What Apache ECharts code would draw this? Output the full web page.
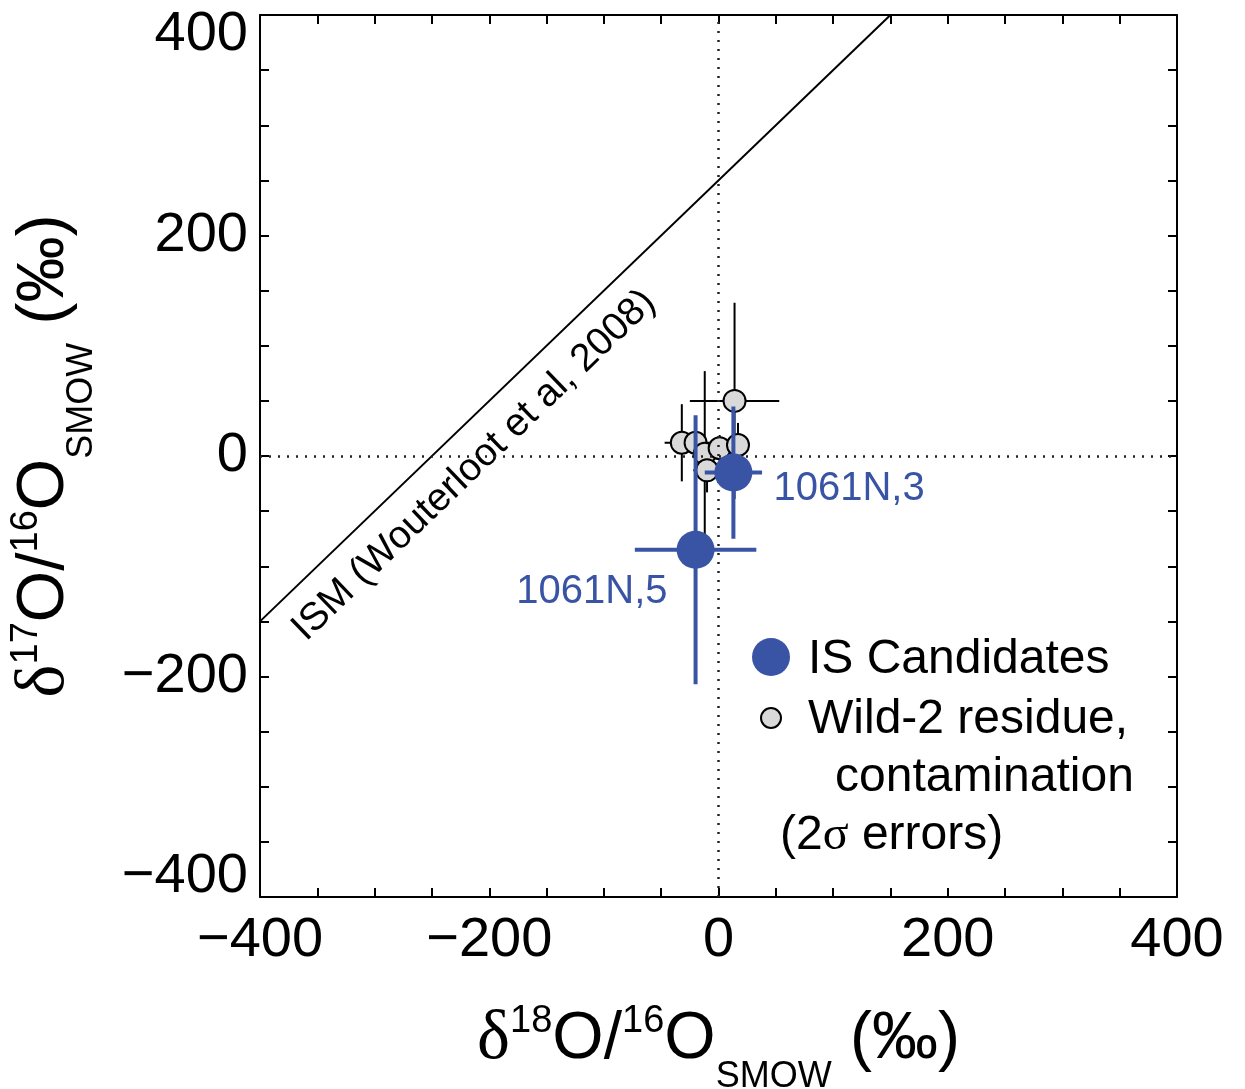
<!DOCTYPE html>
<html>
<head>
<meta charset="utf-8">
<script src="https://cdn.jsdelivr.net/npm/echarts@6/dist/echarts.min.js"></script>
<style>
html, body { margin: 0; padding: 0; background: #fff; }
#chart { width: 1245px; height: 1089px; }
</style>
</head>
<body>
<div id="chart"></div>
<script>
'use strict';

// IS candidates: [δ18O, δ17O] and 2σ errors
const isNames = ['1061N,3', '1061N,5'];
const isValues = [[13, -15], [-20, -85]];
const isErrX = [25, 53];
const isErrY = [60, 122];

// Wild-2 residue, contamination
const wildValues = [[-32, 12], [-20, 12], [-12, 2], [1, 7], [17, 10], [-10, -13], [14, 50]];
const wildErrX = [15, 12, 10, 8, 10, 12, 39];
const wildErrY = [35, 20, 75, 12, 20, 20, 89];

// ISM line (Wouterloot et al, 2008)
const ismLine = [[-400, -150], [150, 400]];
const ismText = 'ISM (Wouterloot et al, 2008)';

const axisMin = -400, axisMax = 400, tickStep = 50, labelStep = 200;

const BLUE = '#3a54a5';
const GRAY = '#d9d9d9';
const FONT = '"Liberation Sans", Arial, sans-serif';
const SERIF = '"Liberation Serif", "DejaVu Serif", serif';

function fmtTick(v) {
    if (v % labelStep !== 0) return '';
    return v < 0 ? '\u2212' + (-v) : String(v);
}

// 误差线
function errorBars(color, width) {
    return function (params, api) {
        let x = api.value(0), y = api.value(1);
        let ex = api.value(2), ey = api.value(3);
        let l = api.coord([x - ex, y]), r = api.coord([x + ex, y]);
        let t = api.coord([x, y + ey]), b = api.coord([x, y - ey]);
        let style = {stroke: color, lineWidth: width, fill: null};
        return {
            type: 'group',
            children: [
                {type: 'line', shape: {x1: l[0], y1: l[1], x2: r[0], y2: r[1]}, style: style},
                {type: 'line', shape: {x1: t[0], y1: t[1], x2: b[0], y2: b[1]}, style: style}
            ]
        };
    };
}

// ISM line with its rotated label
function ismItem(params, api) {
    let p1 = api.coord([api.value(0), api.value(1)]);
    let p2 = api.coord([api.value(2), api.value(3)]);
    let ang = Math.atan2(p1[1] - p2[1], p2[0] - p1[0]);
    let f = 0.30, off = 36;
    let cx = p1[0] + (p2[0] - p1[0]) * f + Math.sin(ang) * off;
    let cy = p1[1] + (p2[1] - p1[1]) * f + Math.cos(ang) * off;
    return {
        type: 'group',
        children: [
            {type: 'line', shape: {x1: p1[0], y1: p1[1], x2: p2[0], y2: p2[1]},
             style: {stroke: '#000', lineWidth: 2}},
            {type: 'text', x: cx, y: cy, rotation: ang,
             style: {text: ismText, fill: '#000', font: '39px ' + FONT,
                     align: 'center', verticalAlign: 'middle'}}
        ]
    };
}

function makeAxis(pos, showLabel) {
    return {
        type: 'value',
        position: pos,
        min: axisMin,
        max: axisMax,
        interval: tickStep,
        axisLine: {onZero: false, lineStyle: {color: '#000', width: 2}},
        axisTick: {inside: true, length: 9, lineStyle: {color: '#000', width: 2}},
        splitLine: {show: false},
        axisLabel: {
            show: showLabel,
            formatter: fmtTick,
            fontSize: 56,
            fontFamily: FONT,
            color: '#000',
            margin: 16
        }
    };
}

const richName = {
    d: {fontSize: 70, fontFamily: SERIF, color: '#000', lineHeight: 110},
    m: {fontSize: 66, fontFamily: FONT, color: '#000', lineHeight: 110},
    sup: {fontSize: 38, fontFamily: FONT, color: '#000', lineHeight: 40, verticalAlign: 'top', padding: [18, 0, 0, 0]},
    sub: {fontSize: 36, fontFamily: FONT, color: '#000', lineHeight: 40, verticalAlign: 'bottom', padding: [0, 0, 0, 0]}
};

let xMain = makeAxis('bottom', true);
xMain.name = '{d|δ}{sup|18}{m|O/}{sup|16}{m|O}{sub|SMOW}{m| (‰)}';
xMain.nameLocation = 'middle';
xMain.nameGap = 88;
xMain.nameTextStyle = {rich: richName};

let yMain = makeAxis('left', true);
yMain.axisLabel.margin = 12;
yMain.axisLabel.lineHeight = 40;
yMain.axisLabel.verticalAlignMaxLabel = 'top';
yMain.axisLabel.verticalAlignMinLabel = 'bottom';
yMain.name = '{d|δ}{sup|17}{m|O/}{sup|16}{m|O}{sub|SMOW}{m| (‰)}';
yMain.nameLocation = 'middle';
yMain.nameRotate = 90;
yMain.nameGap = 160;
yMain.nameTextStyle = {rich: richName};

let myChart = echarts.init(document.getElementById('chart'));

myChart.setOption({
    animation: false,
    backgroundColor: '#fff',
    grid: {left: 260, right: 68, top: 15, bottom: 192, containLabel: false, outerBoundsMode: 'none'},
    xAxis: [xMain, makeAxis('top', false)],
    yAxis: [yMain, makeAxis('right', false)],
    series: [
        {
            type: 'custom',
            name: 'ISM',
            renderItem: ismItem,
            data: [[ismLine[0][0], ismLine[0][1], ismLine[1][0], ismLine[1][1]]],
            encode: {x: [0, 2], y: [1, 3]},
            z: 1,
            markLine: {
                silent: true,
                symbol: 'none',
                label: {show: false},
                lineStyle: {color: '#222', width: 2.5, type: [2, 7]},
                data: [{xAxis: 0}, {yAxis: 0}]
            }
        },
        {
            type: 'custom',
            name: 'Wild-2 errors',
            renderItem: errorBars('#000', 2),
            data: wildValues.map((v, i) => [v[0], v[1], wildErrX[i], wildErrY[i]]),
            encode: {x: 0, y: 1},
            z: 2
        },
        {
            type: 'scatter',
            name: 'Wild-2 residue, contamination',
            symbol: 'circle',
            symbolSize: 22,
            itemStyle: {color: GRAY, borderColor: '#000', borderWidth: 2, opacity: 1},
            data: wildValues,
            z: 3
        },
        {
            type: 'custom',
            name: 'IS errors',
            renderItem: errorBars(BLUE, 4),
            data: isValues.map((v, i) => [v[0], v[1], isErrX[i], isErrY[i]]),
            encode: {x: 0, y: 1},
            z: 4
        },
        {
            type: 'scatter',
            name: 'IS Candidates',
            symbol: 'circle',
            symbolSize: 38,
            itemStyle: {color: BLUE, opacity: 1},
            label: {
                show: true,
                formatter: function (p) { return isNames[p.dataIndex]; },
                color: BLUE,
                fontSize: 40,
                fontFamily: FONT
            },
            data: [
                {value: isValues[0], label: {position: 'right', offset: [16, 16]}},
                {value: isValues[1], label: {position: 'left', offset: [-4, 42]}}
            ],
            z: 5
        }
    ],
    graphic: [
        {type: 'circle', shape: {cx: 771, cy: 657, r: 19}, style: {fill: BLUE}},
        {type: 'circle', shape: {cx: 771, cy: 718, r: 10}, style: {fill: GRAY, stroke: '#000', lineWidth: 2}},
        {type: 'text', x: 808, y: 660, style: {text: 'IS Candidates', font: '48px ' + FONT, fill: '#000', verticalAlign: 'middle'}},
        {type: 'text', x: 808, y: 720, style: {text: 'Wild-2 residue,', font: '48px ' + FONT, fill: '#000', verticalAlign: 'middle'}},
        {type: 'text', x: 835, y: 778, style: {text: 'contamination', font: '48px ' + FONT, fill: '#000', verticalAlign: 'middle'}},
        {type: 'text', x: 780, y: 836, style: {
            text: '(2{s|σ} errors)', font: '48px ' + FONT, fill: '#000', verticalAlign: 'middle',
            rich: {s: {fontSize: 48, fontFamily: SERIF}}
        }}
    ]
});
</script>
</body>
</html>
